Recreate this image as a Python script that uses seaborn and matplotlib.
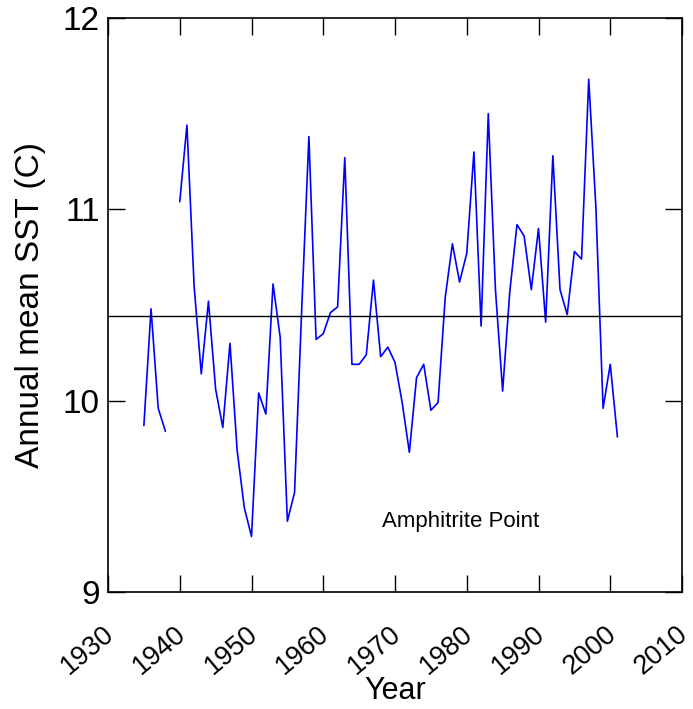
import matplotlib

matplotlib.use("Agg")
import matplotlib.pyplot as plt  # noqa: E402
import matplotlib.transforms as mtransforms  # noqa: E402
import pandas as pd  # noqa: E402
import seaborn as sns  # noqa: E402

# Annual mean sea-surface temperature, Amphitrite Point (1939 missing)
YEARS_A = [1935, 1936, 1937, 1938]
SST_A = [9.87, 10.48, 9.96, 9.84]
YEARS_B = list(range(1940, 2002))
SST_B = [11.04, 11.44, 10.60, 10.14, 10.52, 10.06, 9.86, 10.30, 9.74, 9.44,
         9.29, 10.04, 9.93, 10.61, 10.33, 9.37, 9.52, 10.48, 11.38, 10.32,
         10.35, 10.46, 10.49, 11.27, 10.19, 10.19, 10.24, 10.63, 10.23, 10.28,
         10.20, 9.99, 9.73, 10.12, 10.19, 9.95, 9.99, 10.54, 10.82, 10.62,
         10.77, 11.30, 10.39, 11.50, 10.58, 10.05, 10.57, 10.92, 10.86, 10.58,
         10.90, 10.41, 11.28, 10.58, 10.45, 10.78, 10.74, 11.68, 11.01, 9.96,
         10.19, 9.81]
MEAN_SST = 10.44
X_TICKS = list(range(1930, 2011, 10))
Y_TICKS = [9, 10, 11, 12]

sns.set_theme(style="ticks")
plt.rcParams["font.family"] = ["Liberation Sans", "DejaVu Sans"]
plt.rcParams.update({"text.color": "black", "axes.labelcolor": "black",
                     "xtick.color": "black", "ytick.color": "black"})

df = pd.DataFrame({
    "year": YEARS_A + YEARS_B,
    "sst": SST_A + SST_B,
    "segment": ["a"] * len(YEARS_A) + ["b"] * len(YEARS_B),
})

fig = plt.figure(figsize=(6.93, 7.09), dpi=100)
ax = fig.add_axes([108 / 693, 1 - 592 / 709, 574 / 693, 574 / 709])

sns.lineplot(data=df, x="year", y="sst", units="segment", estimator=None,
             color="#0000FF", lw=1.2, ax=ax)
ax.axhline(MEAN_SST, color="black", lw=1.0)

ax.set_xlim(1930, 2010)
ax.set_ylim(9, 12)
ax.set_xticks(X_TICKS)
ax.set_yticks(Y_TICKS)
for s in ax.spines.values():
    s.set_visible(True)
    s.set_color("black")
    s.set_linewidth(1.2)

ax.tick_params(axis="both", direction="in", length=12, width=1.0,
               top=True, right=True, labeltop=False, labelright=False)
ax.tick_params(axis="y", labelsize=24, pad=6)
ax.tick_params(axis="x", labelsize=19.5, pad=21)
offset = mtransforms.ScaledTranslation(0.11, 0, fig.dpi_scale_trans)
for lab in ax.get_xticklabels():
    lab.set_rotation(40)
    lab.set_ha("right")
    lab.set_va("top")
    lab.set_transform(lab.get_transform() + offset)

ax.set_xlabel("Year", fontsize=22)
ax.xaxis.set_label_coords(0.5, -0.172)
ax.xaxis.label.set_va("center")
ax.set_ylabel("Annual mean SST (C)", fontsize=24, labelpad=12)
ax.text(1968.2, 9.37, "Amphitrite Point", fontsize=16, ha="left", va="center")

fig.savefig("out.png", dpi=100, facecolor="white")
